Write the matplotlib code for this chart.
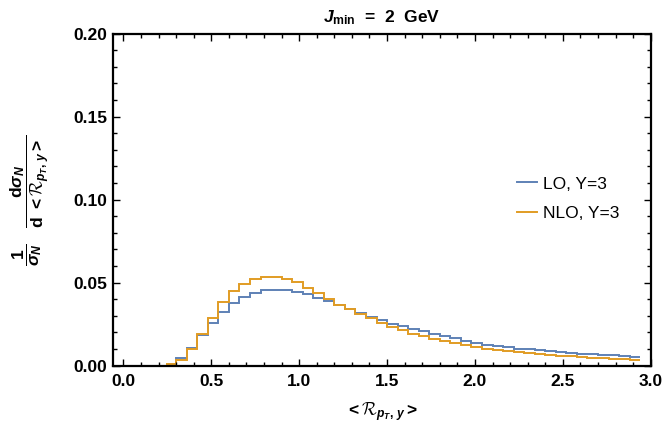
import numpy as np
import matplotlib
matplotlib.use("Agg")
import matplotlib.pyplot as plt
from matplotlib.ticker import MultipleLocator, FormatStrFormatter

# ----------------------
# Data
# ----------------------
bin_edges = np.round(np.linspace(0.24, 2.94, 46), 2)

lo_y3 = [0.0008, 0.0044, 0.0105, 0.0181, 0.0255, 0.0321, 0.0375, 0.0414, 0.0438, 0.0454,
         0.0458, 0.0458, 0.0446, 0.0428, 0.0408, 0.0387, 0.0364, 0.0340, 0.0315, 0.0295,
         0.0275, 0.0253, 0.0237, 0.0221, 0.0205, 0.0192, 0.0178, 0.0164, 0.0150, 0.0137,
         0.0126, 0.0117, 0.0109, 0.0102, 0.0097, 0.0091, 0.0086, 0.0081, 0.0076, 0.0072,
         0.0068, 0.0064, 0.0061, 0.0057, 0.0054]

nlo_y3 = [0.0010, 0.0032, 0.0098, 0.0191, 0.0287, 0.0380, 0.0448, 0.0492, 0.0524, 0.0536,
          0.0532, 0.0524, 0.0504, 0.0468, 0.0440, 0.0400, 0.0367, 0.0339, 0.0311, 0.0285,
          0.0259, 0.0231, 0.0211, 0.0191, 0.0176, 0.0161, 0.0147, 0.0135, 0.0122, 0.0110,
          0.0100, 0.0093, 0.0086, 0.0080, 0.0075, 0.0069, 0.0064, 0.0059, 0.0055, 0.0051,
          0.0047, 0.0044, 0.0041, 0.0038, 0.0035]

labels = ["LO, Y=3", "NLO, Y=3"]
colors = ["#5E81B5", "#E19C24"]

# ----------------------
# Fonts
# ----------------------
plt.rcParams["font.family"] = ["Liberation Sans", "DejaVu Sans"]
plt.rcParams["font.weight"] = "bold"
plt.rcParams["mathtext.fontset"] = "custom"
plt.rcParams["mathtext.rm"] = "Liberation Sans:bold"
plt.rcParams["mathtext.bf"] = "Liberation Sans:bold"
plt.rcParams["mathtext.it"] = "Liberation Sans:bold:italic"
plt.rcParams["mathtext.sf"] = "Liberation Sans:bold"
plt.rcParams["mathtext.cal"] = "cmsy10"

# ----------------------
# Plot
# ----------------------
fig = plt.figure(figsize=(6.64, 4.26), dpi=100)
ax = fig.add_axes([0.170, 0.142, 0.810, 0.779])

for vals, lab, col in zip([lo_y3, nlo_y3], labels, colors):
    ax.stairs(vals, bin_edges, baseline=None, color=col, linewidth=1.4, label=lab)

ax.set_xlim(-0.06, 3.0)
ax.set_ylim(0.0, 0.2)
ax.xaxis.set_major_locator(MultipleLocator(0.5))
ax.xaxis.set_minor_locator(MultipleLocator(0.1))
ax.yaxis.set_major_locator(MultipleLocator(0.05))
ax.yaxis.set_minor_locator(MultipleLocator(0.01))
ax.xaxis.set_major_formatter(FormatStrFormatter("%.1f"))
ax.yaxis.set_major_formatter(FormatStrFormatter("%.2f"))

ax.tick_params(which="both", direction="in", top=True, right=True, width=1.0)
ax.tick_params(which="major", length=5, labelsize=12.5)
ax.tick_params(which="minor", length=3)
ax.tick_params(axis="x", pad=6)
ax.tick_params(axis="y", pad=4)
for s in ax.spines.values():
    s.set_linewidth(1.6)

ax.set_title(r"$J_{\mathrm{min}}$  =  2  GeV", fontsize=12.5, fontweight="bold", pad=8)
ax.set_xlabel(r"$<\mathcal{R}_{p_T,\,y}>$", fontsize=12.5, labelpad=8)

fig.text(0.045, 0.53,
         r"$\dfrac{1}{\sigma_N}\ \ \ \dfrac{\mathrm{d}\sigma_N}{\mathrm{d}\ <\mathcal{R}_{p_T,\,y}>}$",
         rotation=90, ha="center", va="center", fontsize=12.5)

ax.legend(loc="center left", bbox_to_anchor=(517 / 664, 0.533),
          bbox_transform=fig.transFigure, frameon=False, borderpad=0, borderaxespad=0,
          handlelength=1.15, handletextpad=0.35, labelspacing=0.85,
          prop={"weight": "normal", "size": 12.5})

fig.savefig("out.png", dpi=100)
